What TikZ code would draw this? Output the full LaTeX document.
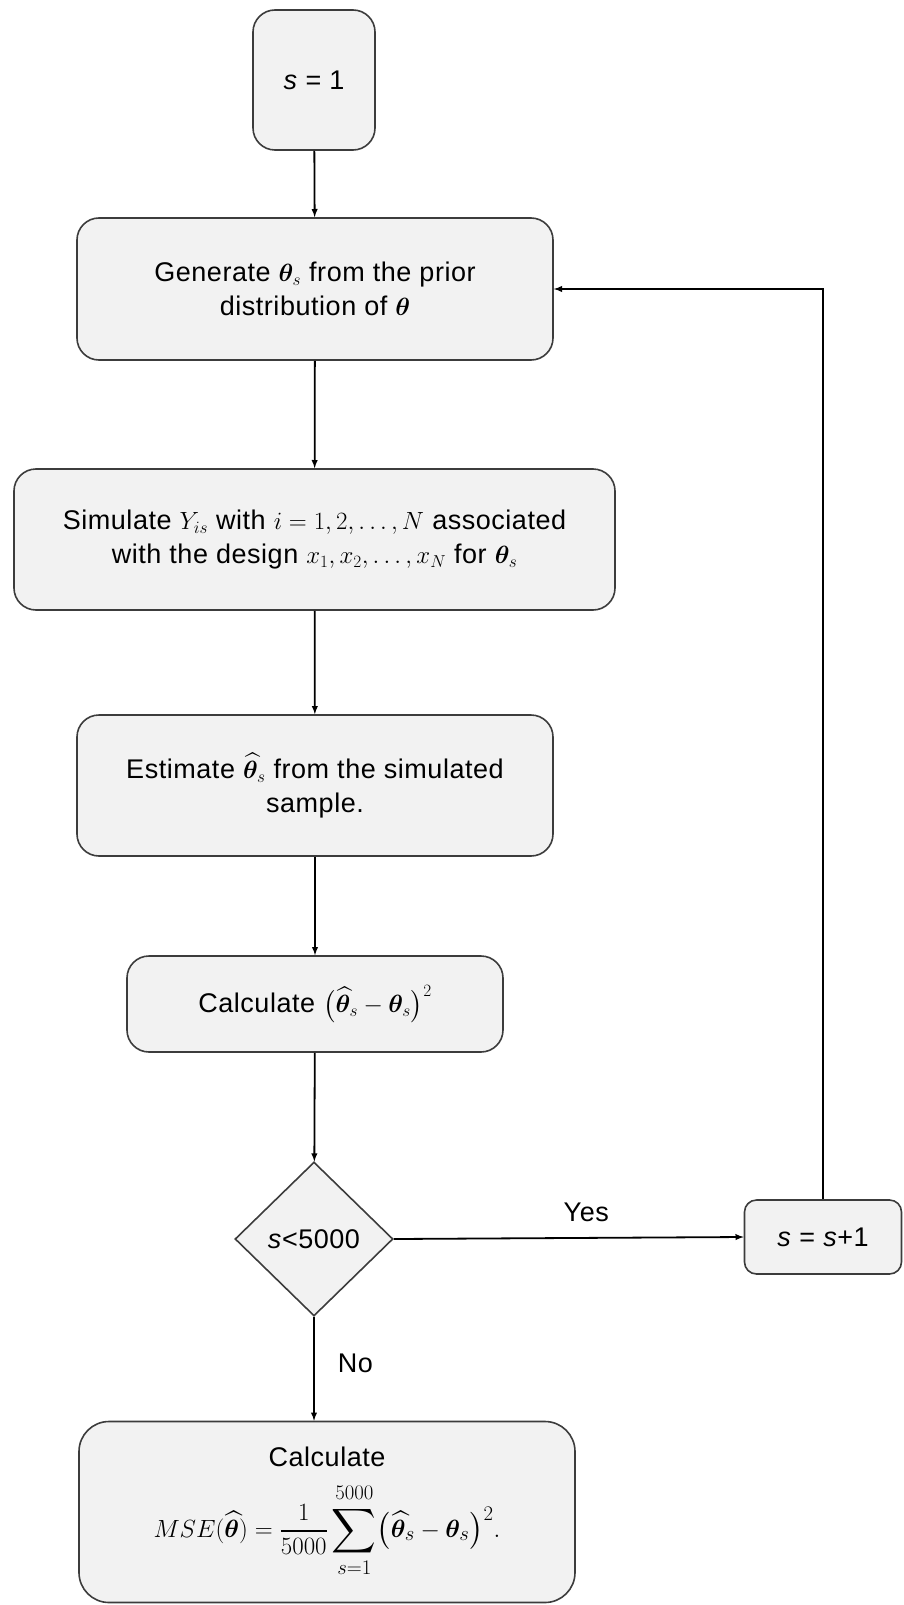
\documentclass[tikz,border=0pt]{standalone}
\usepackage{amsmath}
\usepackage{amssymb}
\usepackage{bm}
\usepackage{fontspec}
\setmainfont{Liberation Sans}[LetterSpace=2]
\usepackage{tikz}
\usetikzlibrary{positioning}
\usetikzlibrary{arrows}
\usetikzlibrary{shapes.geometric}
\definecolor{box-fill}{RGB}{242,242,242}
\definecolor{box-line}{RGB}{60,60,60}

\begin{document}
\begin{tikzpicture}[x=1pt, y=-1pt, >=latex, line width=1.6pt,
  box/.style={rectangle, rounded corners=22pt, draw=box-line, fill=box-fill, align=center, inner sep=0pt},
  decision/.style={diamond, draw=box-line, fill=box-fill, inner sep=0pt, minimum width=158pt, minimum height=154pt},
  flow/.style={->, line width=1.8pt}]
\fontsize{27}{34}\selectfont

\useasboundingbox (0,0) rectangle (903,1605);

% main column of steps
\node [box, minimum width=122pt, minimum height=140pt](start) at (314,80) {\textit{s} = 1};

\node [box, minimum width=476pt, minimum height=142pt](gen) at (315,289)
  {Generate $\bm{\theta}_s$ from the prior\\ distribution of $\bm{\theta}$};

\node [box, minimum width=601pt, minimum height=141pt](sim) at (314.5,539.5)
  {Simulate $Y_{is}$ with $i=1,2,\ldots,N$ associated\\ with the design $x_1,x_2,\ldots,x_N$ for $\bm{\theta}_s$};

\node [box, minimum width=476pt, minimum height=141pt](est) at (315,785.5)
  {Estimate $\widehat{\bm{\theta}}_s$ from the simulated\\ sample.};

\node [box, minimum width=376pt, minimum height=96pt](calc) at (315,1004)
  {Calculate $\bigl(\widehat{\bm{\theta}}_s-\bm{\theta}_s\bigr)^2$};

\node [decision](test) at (314,1239) {\textit{s}<5000};

\node [box, rounded corners=12pt, minimum width=157pt, minimum height=74pt](inc) at (823,1237)
  {\textit{s} = \textit{s}+1};

\node [box, rounded corners=30pt, minimum width=496pt, minimum height=181pt](mse) at (327,1512)
  {Calculate\\[16pt]
   {\fontsize{31}{34}\selectfont
   $\displaystyle MSE(\widehat{\bm{\theta}})=\frac{1}{5000}\sum_{s=1}^{5000}\bigl(\widehat{\bm{\theta}}_s-\bm{\theta}_s\bigr)^2.$}};

% arrows
\draw [flow] (start) -- (gen);
\draw [flow] (gen) -- (sim);
\draw [flow] (sim) -- (est);
\draw [flow] (est) -- (calc);
\draw [flow] (calc) -- (test);
\draw [flow] (test.east) -- (inc.west) node[pos=0.55, above=6pt] {Yes};
\draw [flow] (test.south) -- (test.south |- mse.north) node[pos=0.45, right=14pt] {No};

% loop back
\draw [flow] (inc.north) |- (gen.east);

\end{tikzpicture}
\end{document}
